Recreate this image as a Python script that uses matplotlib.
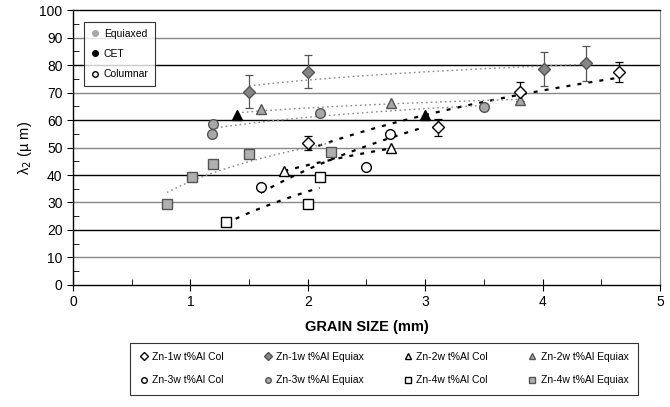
import numpy as np
import matplotlib
matplotlib.use("Agg")
import matplotlib.pyplot as plt
from matplotlib.lines import Line2D

plt.rcParams['font.family'] = ['Liberation Sans', 'DejaVu Sans']

# data (grain size mm, lambda2 um)
zn1_col_x = [2.0, 3.11, 3.81, 4.65]
zn1_col_y = [51.7, 57.3, 70.3, 77.6]
zn1_col_err = [2.5, 3.0, 3.4, 3.7]
zn1_eq_x = [1.5, 2.0, 4.01, 4.37]
zn1_eq_y = [70.3, 77.6, 78.5, 80.6]
zn1_eq_err = [6.0, 6.1, 6.1, 6.5]
zn2_col_x = [1.8, 2.71]
zn2_col_y = [41.5, 49.7]
zn2_eq_x = [1.6, 2.71, 3.81]
zn2_eq_y = [64.2, 66.1, 67.3]
zn3_col_x = [1.6, 2.5, 2.7]
zn3_col_y = [35.5, 42.8, 54.9]
zn3_eq_x = [1.19, 1.18, 2.1, 3.5]
zn3_eq_y = [58.5, 54.9, 62.4, 64.8]
zn4_col_x = [1.3, 2.0, 2.1]
zn4_col_y = [22.8, 29.5, 39.4]
zn4_eq_x = [0.8, 1.01, 1.19, 1.5, 2.2]
zn4_eq_y = [29.5, 39.4, 43.9, 47.5, 48.5]
cet_x = [1.4, 3.0]
cet_y = [61.8, 61.8]

labels = ['Zn-1w t%Al Col', 'Zn-1w t%Al Equiax', 'Zn-2w t%Al Col', 'Zn-2w t%Al Equiax',
          'Zn-3w t%Al Col', 'Zn-3w t%Al Equiax', 'Zn-4w t%Al Col', 'Zn-4w t%Al Equiax']


def log_trend(ax, x, y, **kw):
    x = np.asarray(x, float)
    b, a = np.polyfit(np.log(x), np.asarray(y, float), 1)
    xs = np.linspace(x.min(), x.max(), 100)
    ax.plot(xs, a + b * np.log(xs), zorder=2, **kw)


fig = plt.figure(figsize=(6.7, 4.07), dpi=100)
ax = fig.add_axes([0.109, 0.300, 0.876, 0.675])

col_line = dict(color='black', lw=1.6, dashes=(1.8, 3.2))
eq_line = dict(color='#8a8a8a', lw=1.0, dashes=(1.2, 2.2))

log_trend(ax, zn1_col_x, zn1_col_y, **col_line)
log_trend(ax, zn1_eq_x, zn1_eq_y, **eq_line)
log_trend(ax, zn2_col_x, zn2_col_y, **col_line)
log_trend(ax, [cet_x[0]] + zn2_eq_x, [cet_y[0]] + zn2_eq_y, **eq_line)
log_trend(ax, zn3_col_x + [cet_x[1]], zn3_col_y + [cet_y[1]], **col_line)
log_trend(ax, zn3_eq_x, zn3_eq_y, **eq_line)
log_trend(ax, zn4_col_x, zn4_col_y, **col_line)
log_trend(ax, zn4_eq_x, zn4_eq_y, **eq_line)

ms = 7
ax.errorbar(zn1_col_x, zn1_col_y, yerr=zn1_col_err, fmt='D', ms=6, mfc='white', mec='black',
            ecolor='black', elinewidth=0.9, capsize=3, capthick=0.9, zorder=4)
ax.errorbar(zn1_eq_x, zn1_eq_y, yerr=zn1_eq_err, fmt='D', ms=6, mfc='#858585', mec='#555555',
            ecolor='#555555', elinewidth=0.9, capsize=3, capthick=0.9, zorder=4)
ax.plot(zn2_col_x, zn2_col_y, '^', ms=ms, mfc='white', mec='black', zorder=4)
ax.plot(zn2_eq_x, zn2_eq_y, '^', ms=ms, mfc='#a8a8a8', mec='#555555', zorder=4)
ax.plot(zn3_col_x, zn3_col_y, 'o', ms=ms, mfc='white', mec='black', zorder=4)
ax.plot(zn3_eq_x, zn3_eq_y, 'o', ms=ms, mfc='#a8a8a8', mec='#555555', zorder=4)
ax.plot(zn4_col_x, zn4_col_y, 's', ms=ms, mfc='white', mec='black', zorder=4)
ax.plot(zn4_eq_x, zn4_eq_y, 's', ms=ms, mfc='#b0b0b0', mec='#555555', zorder=4)
ax.plot(cet_x, cet_y, '^', ms=ms, mfc='black', mec='black', zorder=4)

# grid
for v in range(10, 100, 10):
    ax.axhline(v, color='black' if v % 20 == 0 else '#888888', lw=1.0, zorder=1)

ax.set_xlim(0, 5)
ax.set_ylim(0, 100)
ax.set_xticks(range(0, 6))
ax.set_xticks(np.arange(0.5, 5, 1.0), minor=True)
ax.set_yticks(range(0, 101, 10))
ax.set_yticks(range(5, 100, 10), minor=True)
ax.tick_params(axis='x', which='major', direction='inout', length=8, labelsize=10)
ax.tick_params(axis='x', which='minor', direction='in', length=4)
ax.tick_params(axis='y', which='major', direction='out', length=4, labelsize=10)
ax.tick_params(axis='y', which='minor', direction='in', length=4)
for s in ['top', 'left', 'bottom']:
    ax.spines[s].set_color('black')
    ax.spines[s].set_linewidth(1.0)
ax.spines['right'].set_color('#888888')

ax.set_xlabel('GRAIN SIZE (mm)', fontsize=10.5, fontweight='bold', labelpad=8)
ax.set_ylabel('λ$_2$ (µ m)', fontsize=10.5, labelpad=4)

# inner legend
inner = [Line2D([], [], ls='none', marker='o', ms=4, mfc='#a8a8a8', mec='#a8a8a8'),
         Line2D([], [], ls='none', marker='o', ms=4, mfc='black', mec='black'),
         Line2D([], [], ls='none', marker='o', ms=4, mfc='white', mec='black')]
leg = ax.legend(inner, ['Equiaxed', 'CET', 'Columnar'], loc='upper left',
                bbox_to_anchor=(0.01, 0.975), fontsize=7.5, frameon=True, fancybox=False,
                edgecolor='black', handlelength=0.8, handletextpad=0.5, borderpad=0.6,
                labelspacing=1.0)
leg.get_frame().set_linewidth(0.8)
leg.set_zorder(6)

# bottom legend
styles = [('D', 'white', 'black'), ('D', '#858585', '#555555'),
          ('^', 'white', 'black'), ('^', '#a8a8a8', '#555555'),
          ('o', 'white', 'black'), ('o', '#a8a8a8', '#555555'),
          ('s', 'white', 'black'), ('s', '#b0b0b0', '#555555')]
handles = [Line2D([], [], ls='none', marker=m, ms=4, mfc=f, mec=e) for m, f, e in styles]
order = [0, 4, 1, 5, 2, 6, 3, 7]
bl = fig.legend([handles[i] for i in order], [labels[i] for i in order], ncol=4,
                loc='lower left', bbox_to_anchor=(125 / 670, 1 - 400 / 407, 518 / 670, 55 / 407),
                mode='expand', fontsize=7.5, frameon=True, fancybox=False, edgecolor='black',
                handlelength=0.8, handletextpad=0.4, borderpad=0.9, labelspacing=1.3)
bl.get_frame().set_linewidth(0.8)

fig.savefig('out.png', dpi=100)
